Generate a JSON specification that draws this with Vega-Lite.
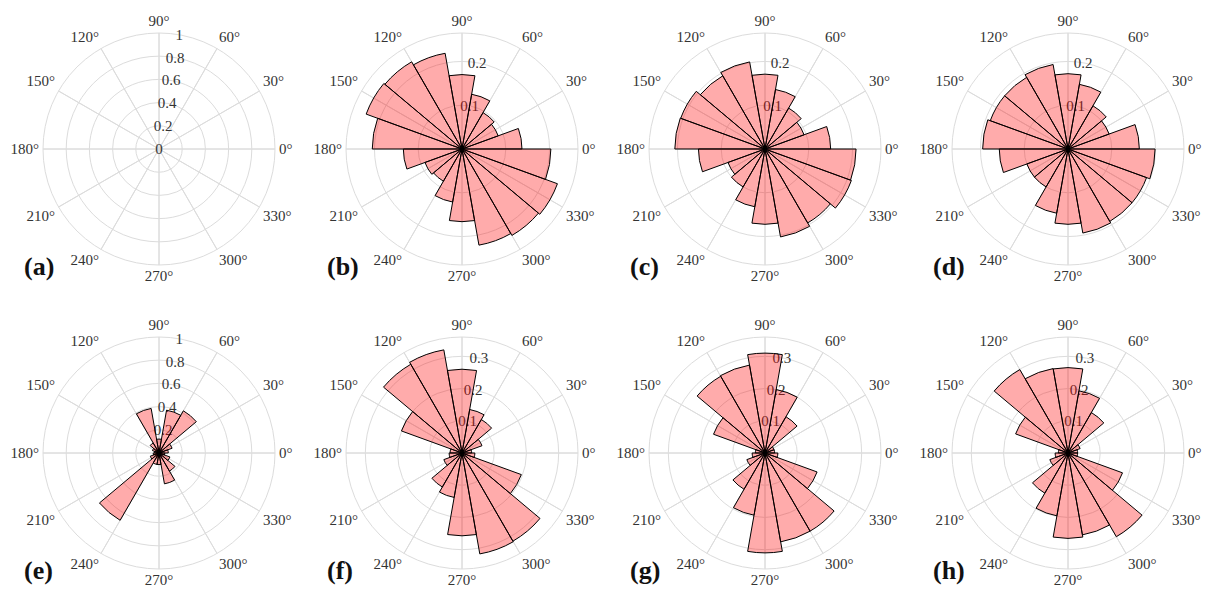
{
  "$schema": "https://vega.github.io/schema/vega-lite/v6.json",
  "padding": {"left": 10, "top": 6, "right": 0, "bottom": 0},
  "background": "white",
  "config": {"view": {"stroke": null}},
  "datasets": {
    "spokes": [
      {"a": 0, "lab": "0°"}, {"a": 30, "lab": "30°"}, {"a": 60, "lab": "60°"}, {"a": 90, "lab": "90°"},
      {"a": 120, "lab": "120°"}, {"a": 150, "lab": "150°"}, {"a": 180, "lab": "180°"}, {"a": 210, "lab": "210°"},
      {"a": 240, "lab": "240°"}, {"a": 270, "lab": "270°"}, {"a": 300, "lab": "300°"}, {"a": 330, "lab": "330°"}
    ],
    "rings_unit": [
      {"r": 0, "lab": "0"}, {"r": 0.2, "lab": "0.2"}, {"r": 0.4, "lab": "0.4"},
      {"r": 0.6, "lab": "0.6"}, {"r": 0.8, "lab": "0.8"}, {"r": 1, "lab": "1"}
    ],
    "rings_mid": [
      {"r": 0.1, "lab": "0.1"}, {"r": 0.2, "lab": "0.2"}, {"r": 0.265, "lab": ""}
    ],
    "rings_hi": [
      {"r": 0.1, "lab": "0.1"}, {"r": 0.2, "lab": "0.2"}, {"r": 0.3, "lab": "0.3"}, {"r": 0.36, "lab": ""}
    ],
    "bins_b": [
      {"a0": 0, "a1": 20, "v": 0.137}, {"a0": 20, "a1": 40, "v": 0.088}, {"a0": 40, "a1": 60, "v": 0.096},
      {"a0": 60, "a1": 80, "v": 0.127}, {"a0": 80, "a1": 100, "v": 0.17}, {"a0": 100, "a1": 120, "v": 0.222},
      {"a0": 120, "a1": 140, "v": 0.23}, {"a0": 140, "a1": 160, "v": 0.233}, {"a0": 160, "a1": 180, "v": 0.205},
      {"a0": 180, "a1": 200, "v": 0.134}, {"a0": 200, "a1": 220, "v": 0.09}, {"a0": 220, "a1": 240, "v": 0.085},
      {"a0": 240, "a1": 260, "v": 0.123}, {"a0": 260, "a1": 280, "v": 0.166}, {"a0": 280, "a1": 300, "v": 0.223},
      {"a0": 300, "a1": 320, "v": 0.228}, {"a0": 320, "a1": 340, "v": 0.232}, {"a0": 340, "a1": 360, "v": 0.203}
    ],
    "bins_c": [
      {"a0": 0, "a1": 20, "v": 0.15}, {"a0": 20, "a1": 40, "v": 0.095}, {"a0": 40, "a1": 60, "v": 0.108},
      {"a0": 60, "a1": 80, "v": 0.138}, {"a0": 80, "a1": 100, "v": 0.171}, {"a0": 100, "a1": 120, "v": 0.202},
      {"a0": 120, "a1": 140, "v": 0.193}, {"a0": 140, "a1": 160, "v": 0.205}, {"a0": 160, "a1": 180, "v": 0.206},
      {"a0": 180, "a1": 200, "v": 0.152}, {"a0": 200, "a1": 220, "v": 0.09}, {"a0": 220, "a1": 240, "v": 0.1},
      {"a0": 240, "a1": 260, "v": 0.134}, {"a0": 260, "a1": 280, "v": 0.172}, {"a0": 280, "a1": 300, "v": 0.204},
      {"a0": 300, "a1": 320, "v": 0.195}, {"a0": 320, "a1": 340, "v": 0.21}, {"a0": 340, "a1": 360, "v": 0.208}
    ],
    "bins_d": [
      {"a0": 0, "a1": 20, "v": 0.163}, {"a0": 20, "a1": 40, "v": 0.1}, {"a0": 40, "a1": 60, "v": 0.114},
      {"a0": 60, "a1": 80, "v": 0.15}, {"a0": 80, "a1": 100, "v": 0.172}, {"a0": 100, "a1": 120, "v": 0.196},
      {"a0": 120, "a1": 140, "v": 0.189}, {"a0": 140, "a1": 160, "v": 0.189}, {"a0": 160, "a1": 180, "v": 0.195},
      {"a0": 180, "a1": 200, "v": 0.157}, {"a0": 200, "a1": 220, "v": 0.1}, {"a0": 220, "a1": 240, "v": 0.1},
      {"a0": 240, "a1": 260, "v": 0.149}, {"a0": 260, "a1": 280, "v": 0.172}, {"a0": 280, "a1": 300, "v": 0.195},
      {"a0": 300, "a1": 320, "v": 0.191}, {"a0": 320, "a1": 340, "v": 0.191}, {"a0": 340, "a1": 360, "v": 0.199}
    ],
    "bins_e": [
      {"a0": 0, "a1": 20, "v": 0.08}, {"a0": 20, "a1": 40, "v": 0.12}, {"a0": 40, "a1": 60, "v": 0.42},
      {"a0": 60, "a1": 80, "v": 0.375}, {"a0": 80, "a1": 100, "v": 0.12}, {"a0": 100, "a1": 120, "v": 0.39},
      {"a0": 120, "a1": 140, "v": 0.1}, {"a0": 140, "a1": 160, "v": 0.06}, {"a0": 160, "a1": 180, "v": 0.04},
      {"a0": 180, "a1": 200, "v": 0.05}, {"a0": 200, "a1": 220, "v": 0.08}, {"a0": 220, "a1": 240, "v": 0.67},
      {"a0": 240, "a1": 260, "v": 0.1}, {"a0": 260, "a1": 280, "v": 0.1}, {"a0": 280, "a1": 300, "v": 0.27},
      {"a0": 300, "a1": 320, "v": 0.18}, {"a0": 320, "a1": 340, "v": 0.1}, {"a0": 340, "a1": 360, "v": 0.05}
    ],
    "bins_f": [
      {"a0": 0, "a1": 20, "v": 0.03}, {"a0": 20, "a1": 40, "v": 0.066}, {"a0": 40, "a1": 60, "v": 0.12},
      {"a0": 60, "a1": 80, "v": 0.137}, {"a0": 80, "a1": 100, "v": 0.26}, {"a0": 100, "a1": 120, "v": 0.325},
      {"a0": 120, "a1": 140, "v": 0.318}, {"a0": 140, "a1": 160, "v": 0.2}, {"a0": 160, "a1": 180, "v": 0.037},
      {"a0": 180, "a1": 200, "v": 0.04}, {"a0": 200, "a1": 220, "v": 0.06}, {"a0": 220, "a1": 240, "v": 0.122},
      {"a0": 240, "a1": 260, "v": 0.14}, {"a0": 260, "a1": 280, "v": 0.257}, {"a0": 280, "a1": 300, "v": 0.318},
      {"a0": 300, "a1": 320, "v": 0.316}, {"a0": 320, "a1": 340, "v": 0.196}, {"a0": 340, "a1": 360, "v": 0.04}
    ],
    "bins_g": [
      {"a0": 0, "a1": 20, "v": 0.03}, {"a0": 20, "a1": 40, "v": 0.03}, {"a0": 40, "a1": 60, "v": 0.13},
      {"a0": 60, "a1": 80, "v": 0.2}, {"a0": 80, "a1": 100, "v": 0.31}, {"a0": 100, "a1": 120, "v": 0.277},
      {"a0": 120, "a1": 140, "v": 0.275}, {"a0": 140, "a1": 160, "v": 0.17}, {"a0": 160, "a1": 180, "v": 0.03},
      {"a0": 180, "a1": 200, "v": 0.04}, {"a0": 200, "a1": 220, "v": 0.06}, {"a0": 220, "a1": 240, "v": 0.13},
      {"a0": 240, "a1": 260, "v": 0.196}, {"a0": 260, "a1": 280, "v": 0.31}, {"a0": 280, "a1": 300, "v": 0.28},
      {"a0": 300, "a1": 320, "v": 0.28}, {"a0": 320, "a1": 340, "v": 0.172}, {"a0": 340, "a1": 360, "v": 0.04}
    ],
    "bins_h": [
      {"a0": 0, "a1": 20, "v": 0.03}, {"a0": 20, "a1": 40, "v": 0.04}, {"a0": 40, "a1": 60, "v": 0.145},
      {"a0": 60, "a1": 80, "v": 0.196}, {"a0": 80, "a1": 100, "v": 0.265}, {"a0": 100, "a1": 120, "v": 0.266},
      {"a0": 120, "a1": 140, "v": 0.299}, {"a0": 140, "a1": 160, "v": 0.173}, {"a0": 160, "a1": 180, "v": 0.03},
      {"a0": 180, "a1": 200, "v": 0.04}, {"a0": 200, "a1": 220, "v": 0.06}, {"a0": 220, "a1": 240, "v": 0.144},
      {"a0": 240, "a1": 260, "v": 0.198}, {"a0": 260, "a1": 280, "v": 0.265}, {"a0": 280, "a1": 300, "v": 0.258},
      {"a0": 300, "a1": 320, "v": 0.3}, {"a0": 320, "a1": 340, "v": 0.18}, {"a0": 340, "a1": 360, "v": 0.03}
    ]
  },
  "columns": 4,
  "spacing": {"row": 18, "column": 17},
  "bounds": "flush",
  "resolve": {"scale": {"radius": "independent", "theta": "independent"}},
  "concat": [
    {
      "width": 286, "height": 286,
      "title": {"text": "(a)", "orient": "bottom", "anchor": "start", "frame": "group", "offset": -25, "dx": 8, "baseline": "middle", "font": "Liberation Serif", "fontSize": 26, "fontWeight": "bold", "color": "#111111"},
      "layer": [
        {"data": {"name": "rings_unit"}, "mark": {"type": "arc", "fill": null, "stroke": "#dcdcdc", "strokeWidth": 1},
         "encoding": {"theta": {"datum": 0, "type": "quantitative", "scale": {"domain": [0, 360], "range": [1.5707963268, -4.7123889804]}}, "theta2": {"datum": 360},
                      "radius": {"field": "r", "type": "quantitative", "stack": null, "scale": {"type": "linear", "domain": [0, 1], "range": [0, 116], "zero": true, "nice": false}}}},
        {"data": {"name": "spokes"}, "mark": {"type": "arc", "fill": null, "stroke": "#dcdcdc", "strokeWidth": 1},
         "encoding": {"theta": {"field": "a", "type": "quantitative", "stack": null}, "theta2": {"field": "a"}, "radius": {"datum": 1, "type": "quantitative"}}},
        {"data": {"name": "rings_unit"}, "mark": {"type": "text", "font": "Liberation Serif", "fontSize": 15, "color": "#333333", "align": "center", "baseline": "middle"},
         "encoding": {"theta": {"datum": 80, "type": "quantitative"}, "radius": {"field": "r", "type": "quantitative", "stack": null}, "text": {"field": "lab"}}},
        {"data": {"name": "spokes"}, "mark": {"type": "text", "radius": 120, "font": "Liberation Serif", "fontSize": 15, "color": "#333333",
           "align": {"expr": "datum.a == 90 || datum.a == 270 ? 'center' : (datum.a > 90 && datum.a < 270 ? 'right' : 'left')"},
           "baseline": {"expr": "datum.a == 0 || datum.a == 180 ? 'middle' : (datum.a < 180 ? 'bottom' : 'top')"}},
         "encoding": {"theta": {"field": "a", "type": "quantitative", "stack": null}, "text": {"field": "lab"}}}
      ]
    },
    {
      "width": 286, "height": 286,
      "title": {"text": "(b)", "orient": "bottom", "anchor": "start", "frame": "group", "offset": -25, "dx": 8, "baseline": "middle", "font": "Liberation Serif", "fontSize": 26, "fontWeight": "bold", "color": "#111111"},
      "layer": [
        {"data": {"name": "rings_mid"}, "mark": {"type": "arc", "fill": null, "stroke": "#dcdcdc", "strokeWidth": 1},
         "encoding": {"theta": {"datum": 0, "type": "quantitative", "scale": {"domain": [0, 360], "range": [1.5707963268, -4.7123889804]}}, "theta2": {"datum": 360},
                      "radius": {"field": "r", "type": "quantitative", "stack": null, "scale": {"type": "linear", "domain": [0, 0.265], "range": [0, 116], "zero": true, "nice": false}}}},
        {"data": {"name": "spokes"}, "mark": {"type": "arc", "fill": null, "stroke": "#dcdcdc", "strokeWidth": 1},
         "encoding": {"theta": {"field": "a", "type": "quantitative", "stack": null}, "theta2": {"field": "a"}, "radius": {"datum": 0.265, "type": "quantitative"}}},
        {"data": {"name": "rings_mid"}, "mark": {"type": "text", "font": "Liberation Serif", "fontSize": 15, "color": "#333333", "align": "center", "baseline": "middle"},
         "encoding": {"theta": {"datum": 80, "type": "quantitative"}, "radius": {"field": "r", "type": "quantitative", "stack": null}, "text": {"field": "lab"}}},
        {"data": {"name": "spokes"}, "mark": {"type": "text", "radius": 120, "font": "Liberation Serif", "fontSize": 15, "color": "#333333",
           "align": {"expr": "datum.a == 90 || datum.a == 270 ? 'center' : (datum.a > 90 && datum.a < 270 ? 'right' : 'left')"},
           "baseline": {"expr": "datum.a == 0 || datum.a == 180 ? 'middle' : (datum.a < 180 ? 'bottom' : 'top')"}},
         "encoding": {"theta": {"field": "a", "type": "quantitative", "stack": null}, "text": {"field": "lab"}}},
        {"data": {"name": "bins_b"}, "mark": {"type": "arc", "fill": "#ff0000", "fillOpacity": 0.33, "stroke": "#000000", "strokeWidth": 1},
         "encoding": {"theta": {"field": "a0", "type": "quantitative", "stack": null}, "theta2": {"field": "a1"}, "radius": {"field": "v", "type": "quantitative", "stack": null}}}
      ]
    },
    {
      "width": 286, "height": 286,
      "title": {"text": "(c)", "orient": "bottom", "anchor": "start", "frame": "group", "offset": -25, "dx": 8, "baseline": "middle", "font": "Liberation Serif", "fontSize": 26, "fontWeight": "bold", "color": "#111111"},
      "layer": [
        {"data": {"name": "rings_mid"}, "mark": {"type": "arc", "fill": null, "stroke": "#dcdcdc", "strokeWidth": 1},
         "encoding": {"theta": {"datum": 0, "type": "quantitative", "scale": {"domain": [0, 360], "range": [1.5707963268, -4.7123889804]}}, "theta2": {"datum": 360},
                      "radius": {"field": "r", "type": "quantitative", "stack": null, "scale": {"type": "linear", "domain": [0, 0.265], "range": [0, 116], "zero": true, "nice": false}}}},
        {"data": {"name": "spokes"}, "mark": {"type": "arc", "fill": null, "stroke": "#dcdcdc", "strokeWidth": 1},
         "encoding": {"theta": {"field": "a", "type": "quantitative", "stack": null}, "theta2": {"field": "a"}, "radius": {"datum": 0.265, "type": "quantitative"}}},
        {"data": {"name": "rings_mid"}, "mark": {"type": "text", "font": "Liberation Serif", "fontSize": 15, "color": "#333333", "align": "center", "baseline": "middle"},
         "encoding": {"theta": {"datum": 80, "type": "quantitative"}, "radius": {"field": "r", "type": "quantitative", "stack": null}, "text": {"field": "lab"}}},
        {"data": {"name": "spokes"}, "mark": {"type": "text", "radius": 120, "font": "Liberation Serif", "fontSize": 15, "color": "#333333",
           "align": {"expr": "datum.a == 90 || datum.a == 270 ? 'center' : (datum.a > 90 && datum.a < 270 ? 'right' : 'left')"},
           "baseline": {"expr": "datum.a == 0 || datum.a == 180 ? 'middle' : (datum.a < 180 ? 'bottom' : 'top')"}},
         "encoding": {"theta": {"field": "a", "type": "quantitative", "stack": null}, "text": {"field": "lab"}}},
        {"data": {"name": "bins_c"}, "mark": {"type": "arc", "fill": "#ff0000", "fillOpacity": 0.33, "stroke": "#000000", "strokeWidth": 1},
         "encoding": {"theta": {"field": "a0", "type": "quantitative", "stack": null}, "theta2": {"field": "a1"}, "radius": {"field": "v", "type": "quantitative", "stack": null}}}
      ]
    },
    {
      "width": 286, "height": 286,
      "title": {"text": "(d)", "orient": "bottom", "anchor": "start", "frame": "group", "offset": -25, "dx": 8, "baseline": "middle", "font": "Liberation Serif", "fontSize": 26, "fontWeight": "bold", "color": "#111111"},
      "layer": [
        {"data": {"name": "rings_mid"}, "mark": {"type": "arc", "fill": null, "stroke": "#dcdcdc", "strokeWidth": 1},
         "encoding": {"theta": {"datum": 0, "type": "quantitative", "scale": {"domain": [0, 360], "range": [1.5707963268, -4.7123889804]}}, "theta2": {"datum": 360},
                      "radius": {"field": "r", "type": "quantitative", "stack": null, "scale": {"type": "linear", "domain": [0, 0.265], "range": [0, 116], "zero": true, "nice": false}}}},
        {"data": {"name": "spokes"}, "mark": {"type": "arc", "fill": null, "stroke": "#dcdcdc", "strokeWidth": 1},
         "encoding": {"theta": {"field": "a", "type": "quantitative", "stack": null}, "theta2": {"field": "a"}, "radius": {"datum": 0.265, "type": "quantitative"}}},
        {"data": {"name": "rings_mid"}, "mark": {"type": "text", "font": "Liberation Serif", "fontSize": 15, "color": "#333333", "align": "center", "baseline": "middle"},
         "encoding": {"theta": {"datum": 80, "type": "quantitative"}, "radius": {"field": "r", "type": "quantitative", "stack": null}, "text": {"field": "lab"}}},
        {"data": {"name": "spokes"}, "mark": {"type": "text", "radius": 120, "font": "Liberation Serif", "fontSize": 15, "color": "#333333",
           "align": {"expr": "datum.a == 90 || datum.a == 270 ? 'center' : (datum.a > 90 && datum.a < 270 ? 'right' : 'left')"},
           "baseline": {"expr": "datum.a == 0 || datum.a == 180 ? 'middle' : (datum.a < 180 ? 'bottom' : 'top')"}},
         "encoding": {"theta": {"field": "a", "type": "quantitative", "stack": null}, "text": {"field": "lab"}}},
        {"data": {"name": "bins_d"}, "mark": {"type": "arc", "fill": "#ff0000", "fillOpacity": 0.33, "stroke": "#000000", "strokeWidth": 1},
         "encoding": {"theta": {"field": "a0", "type": "quantitative", "stack": null}, "theta2": {"field": "a1"}, "radius": {"field": "v", "type": "quantitative", "stack": null}}}
      ]
    },
    {
      "width": 286, "height": 286,
      "title": {"text": "(e)", "orient": "bottom", "anchor": "start", "frame": "group", "offset": -25, "dx": 8, "baseline": "middle", "font": "Liberation Serif", "fontSize": 26, "fontWeight": "bold", "color": "#111111"},
      "layer": [
        {"data": {"name": "rings_unit"}, "mark": {"type": "arc", "fill": null, "stroke": "#dcdcdc", "strokeWidth": 1},
         "encoding": {"theta": {"datum": 0, "type": "quantitative", "scale": {"domain": [0, 360], "range": [1.5707963268, -4.7123889804]}}, "theta2": {"datum": 360},
                      "radius": {"field": "r", "type": "quantitative", "stack": null, "scale": {"type": "linear", "domain": [0, 1], "range": [0, 116], "zero": true, "nice": false}}}},
        {"data": {"name": "spokes"}, "mark": {"type": "arc", "fill": null, "stroke": "#dcdcdc", "strokeWidth": 1},
         "encoding": {"theta": {"field": "a", "type": "quantitative", "stack": null}, "theta2": {"field": "a"}, "radius": {"datum": 1, "type": "quantitative"}}},
        {"data": {"name": "rings_unit"}, "mark": {"type": "text", "font": "Liberation Serif", "fontSize": 15, "color": "#333333", "align": "center", "baseline": "middle"},
         "encoding": {"theta": {"datum": 80, "type": "quantitative"}, "radius": {"field": "r", "type": "quantitative", "stack": null}, "text": {"field": "lab"}}},
        {"data": {"name": "spokes"}, "mark": {"type": "text", "radius": 120, "font": "Liberation Serif", "fontSize": 15, "color": "#333333",
           "align": {"expr": "datum.a == 90 || datum.a == 270 ? 'center' : (datum.a > 90 && datum.a < 270 ? 'right' : 'left')"},
           "baseline": {"expr": "datum.a == 0 || datum.a == 180 ? 'middle' : (datum.a < 180 ? 'bottom' : 'top')"}},
         "encoding": {"theta": {"field": "a", "type": "quantitative", "stack": null}, "text": {"field": "lab"}}},
        {"data": {"name": "bins_e"}, "mark": {"type": "arc", "fill": "#ff0000", "fillOpacity": 0.33, "stroke": "#000000", "strokeWidth": 1},
         "encoding": {"theta": {"field": "a0", "type": "quantitative", "stack": null}, "theta2": {"field": "a1"}, "radius": {"field": "v", "type": "quantitative", "stack": null}}}
      ]
    },
    {
      "width": 286, "height": 286,
      "title": {"text": "(f)", "orient": "bottom", "anchor": "start", "frame": "group", "offset": -25, "dx": 8, "baseline": "middle", "font": "Liberation Serif", "fontSize": 26, "fontWeight": "bold", "color": "#111111"},
      "layer": [
        {"data": {"name": "rings_hi"}, "mark": {"type": "arc", "fill": null, "stroke": "#dcdcdc", "strokeWidth": 1},
         "encoding": {"theta": {"datum": 0, "type": "quantitative", "scale": {"domain": [0, 360], "range": [1.5707963268, -4.7123889804]}}, "theta2": {"datum": 360},
                      "radius": {"field": "r", "type": "quantitative", "stack": null, "scale": {"type": "linear", "domain": [0, 0.36], "range": [0, 116], "zero": true, "nice": false}}}},
        {"data": {"name": "spokes"}, "mark": {"type": "arc", "fill": null, "stroke": "#dcdcdc", "strokeWidth": 1},
         "encoding": {"theta": {"field": "a", "type": "quantitative", "stack": null}, "theta2": {"field": "a"}, "radius": {"datum": 0.36, "type": "quantitative"}}},
        {"data": {"name": "rings_hi"}, "mark": {"type": "text", "font": "Liberation Serif", "fontSize": 15, "color": "#333333", "align": "center", "baseline": "middle"},
         "encoding": {"theta": {"datum": 80, "type": "quantitative"}, "radius": {"field": "r", "type": "quantitative", "stack": null}, "text": {"field": "lab"}}},
        {"data": {"name": "spokes"}, "mark": {"type": "text", "radius": 120, "font": "Liberation Serif", "fontSize": 15, "color": "#333333",
           "align": {"expr": "datum.a == 90 || datum.a == 270 ? 'center' : (datum.a > 90 && datum.a < 270 ? 'right' : 'left')"},
           "baseline": {"expr": "datum.a == 0 || datum.a == 180 ? 'middle' : (datum.a < 180 ? 'bottom' : 'top')"}},
         "encoding": {"theta": {"field": "a", "type": "quantitative", "stack": null}, "text": {"field": "lab"}}},
        {"data": {"name": "bins_f"}, "mark": {"type": "arc", "fill": "#ff0000", "fillOpacity": 0.33, "stroke": "#000000", "strokeWidth": 1},
         "encoding": {"theta": {"field": "a0", "type": "quantitative", "stack": null}, "theta2": {"field": "a1"}, "radius": {"field": "v", "type": "quantitative", "stack": null}}}
      ]
    },
    {
      "width": 286, "height": 286,
      "title": {"text": "(g)", "orient": "bottom", "anchor": "start", "frame": "group", "offset": -25, "dx": 8, "baseline": "middle", "font": "Liberation Serif", "fontSize": 26, "fontWeight": "bold", "color": "#111111"},
      "layer": [
        {"data": {"name": "rings_hi"}, "mark": {"type": "arc", "fill": null, "stroke": "#dcdcdc", "strokeWidth": 1},
         "encoding": {"theta": {"datum": 0, "type": "quantitative", "scale": {"domain": [0, 360], "range": [1.5707963268, -4.7123889804]}}, "theta2": {"datum": 360},
                      "radius": {"field": "r", "type": "quantitative", "stack": null, "scale": {"type": "linear", "domain": [0, 0.36], "range": [0, 116], "zero": true, "nice": false}}}},
        {"data": {"name": "spokes"}, "mark": {"type": "arc", "fill": null, "stroke": "#dcdcdc", "strokeWidth": 1},
         "encoding": {"theta": {"field": "a", "type": "quantitative", "stack": null}, "theta2": {"field": "a"}, "radius": {"datum": 0.36, "type": "quantitative"}}},
        {"data": {"name": "rings_hi"}, "mark": {"type": "text", "font": "Liberation Serif", "fontSize": 15, "color": "#333333", "align": "center", "baseline": "middle"},
         "encoding": {"theta": {"datum": 80, "type": "quantitative"}, "radius": {"field": "r", "type": "quantitative", "stack": null}, "text": {"field": "lab"}}},
        {"data": {"name": "spokes"}, "mark": {"type": "text", "radius": 120, "font": "Liberation Serif", "fontSize": 15, "color": "#333333",
           "align": {"expr": "datum.a == 90 || datum.a == 270 ? 'center' : (datum.a > 90 && datum.a < 270 ? 'right' : 'left')"},
           "baseline": {"expr": "datum.a == 0 || datum.a == 180 ? 'middle' : (datum.a < 180 ? 'bottom' : 'top')"}},
         "encoding": {"theta": {"field": "a", "type": "quantitative", "stack": null}, "text": {"field": "lab"}}},
        {"data": {"name": "bins_g"}, "mark": {"type": "arc", "fill": "#ff0000", "fillOpacity": 0.33, "stroke": "#000000", "strokeWidth": 1},
         "encoding": {"theta": {"field": "a0", "type": "quantitative", "stack": null}, "theta2": {"field": "a1"}, "radius": {"field": "v", "type": "quantitative", "stack": null}}}
      ]
    },
    {
      "width": 286, "height": 286,
      "title": {"text": "(h)", "orient": "bottom", "anchor": "start", "frame": "group", "offset": -25, "dx": 8, "baseline": "middle", "font": "Liberation Serif", "fontSize": 26, "fontWeight": "bold", "color": "#111111"},
      "layer": [
        {"data": {"name": "rings_hi"}, "mark": {"type": "arc", "fill": null, "stroke": "#dcdcdc", "strokeWidth": 1},
         "encoding": {"theta": {"datum": 0, "type": "quantitative", "scale": {"domain": [0, 360], "range": [1.5707963268, -4.7123889804]}}, "theta2": {"datum": 360},
                      "radius": {"field": "r", "type": "quantitative", "stack": null, "scale": {"type": "linear", "domain": [0, 0.36], "range": [0, 116], "zero": true, "nice": false}}}},
        {"data": {"name": "spokes"}, "mark": {"type": "arc", "fill": null, "stroke": "#dcdcdc", "strokeWidth": 1},
         "encoding": {"theta": {"field": "a", "type": "quantitative", "stack": null}, "theta2": {"field": "a"}, "radius": {"datum": 0.36, "type": "quantitative"}}},
        {"data": {"name": "rings_hi"}, "mark": {"type": "text", "font": "Liberation Serif", "fontSize": 15, "color": "#333333", "align": "center", "baseline": "middle"},
         "encoding": {"theta": {"datum": 80, "type": "quantitative"}, "radius": {"field": "r", "type": "quantitative", "stack": null}, "text": {"field": "lab"}}},
        {"data": {"name": "spokes"}, "mark": {"type": "text", "radius": 120, "font": "Liberation Serif", "fontSize": 15, "color": "#333333",
           "align": {"expr": "datum.a == 90 || datum.a == 270 ? 'center' : (datum.a > 90 && datum.a < 270 ? 'right' : 'left')"},
           "baseline": {"expr": "datum.a == 0 || datum.a == 180 ? 'middle' : (datum.a < 180 ? 'bottom' : 'top')"}},
         "encoding": {"theta": {"field": "a", "type": "quantitative", "stack": null}, "text": {"field": "lab"}}},
        {"data": {"name": "bins_h"}, "mark": {"type": "arc", "fill": "#ff0000", "fillOpacity": 0.33, "stroke": "#000000", "strokeWidth": 1},
         "encoding": {"theta": {"field": "a0", "type": "quantitative", "stack": null}, "theta2": {"field": "a1"}, "radius": {"field": "v", "type": "quantitative", "stack": null}}}
      ]
    }
  ]
}
